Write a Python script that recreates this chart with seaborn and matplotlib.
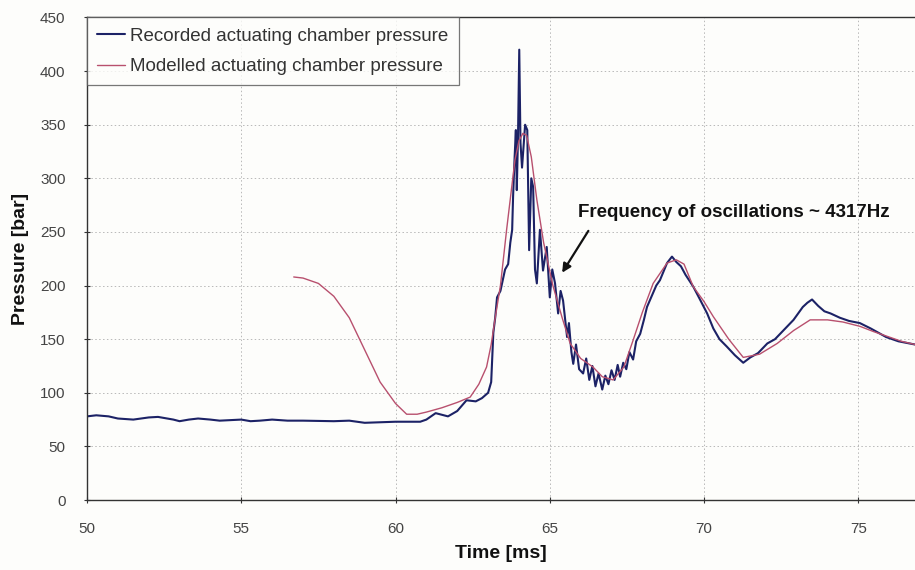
import numpy as np
import pandas as pd
import matplotlib
matplotlib.use("Agg")
import matplotlib.pyplot as plt
import seaborn as sns

# Recorded actuating chamber pressure (time in ms, pressure in bar)
rec_t = [50.0, 50.3, 50.7, 51.0, 51.5, 52.0, 52.3, 52.8, 53.0, 53.3, 53.6, 54.0, 54.3,
         55.0, 55.3, 55.6, 56.0, 56.5, 57.0, 58.0, 58.5, 59.0, 59.5, 60.0, 60.5, 60.8,
         61.0, 61.3, 61.7, 62.0, 62.3, 62.6, 62.8, 63.0, 63.1, 63.17, 63.23, 63.29, 63.4,
         63.55, 63.65, 63.72, 63.78, 63.81, 63.86, 63.9, 63.93, 63.97, 64.01, 64.05,
         64.1, 64.15, 64.2, 64.27, 64.33, 64.4, 64.46, 64.52, 64.58, 64.68, 64.78, 64.9,
         65.0, 65.08, 65.17, 65.27, 65.35, 65.43, 65.56, 65.62, 65.7, 65.76, 65.85, 65.95,
         66.08, 66.18, 66.28, 66.38, 66.48, 66.58, 66.7, 66.8, 66.9, 67.0, 67.1, 67.2,
         67.28, 67.38, 67.48, 67.58, 67.7, 67.8, 67.93, 68.05, 68.15, 68.3, 68.45, 68.57,
         68.7, 68.8, 68.96, 69.1, 69.25, 69.4, 69.65, 69.85, 70.1, 70.3, 70.5, 70.74,
         71.0, 71.27, 71.5, 71.75, 72.05, 72.3, 72.5, 72.7, 72.9, 73.2, 73.35, 73.5,
         73.7, 73.9, 74.1, 74.4, 74.7, 75.05, 75.4, 75.9, 76.3, 76.84]
rec_p = [78, 79, 78, 76, 75, 77, 77.5, 75, 73.5, 75, 76, 75, 74,
         75, 73.5, 74, 75, 74, 74, 73.5, 74, 72, 72.5, 73, 73, 73,
         75, 81, 78, 83, 93, 92, 95, 100, 110, 156, 170, 189, 195,
         215, 220, 240, 252, 283, 320, 345, 289, 340, 420, 333,
         310, 330, 350, 345, 233, 300, 292, 215, 202, 252, 214, 236,
         189, 215, 202, 174, 195, 186, 152, 165, 138, 127, 145, 122,
         118, 132, 112, 125, 106, 118, 103, 116, 108, 121, 112, 126,
         115, 128, 122, 138, 131, 148, 155, 168, 180, 190, 200, 205,
         214, 221, 227, 222, 218, 210, 199, 188, 174, 160, 150, 143,
         135, 128, 133, 137, 146, 150, 156, 162, 168, 180, 184, 187,
         181, 176, 174, 170, 167, 165, 160, 152, 148, 145]

# Modelled actuating chamber pressure
mod_t = [56.7, 57.0, 57.5, 58.0, 58.5, 59.0, 59.5, 60.0, 60.36, 60.7, 61.0, 61.5,
         62.0, 62.42, 62.7, 62.95, 63.1, 63.22, 63.4, 63.6, 63.87, 64.0, 64.13, 64.25,
         64.4, 64.58, 64.8, 65.1, 65.4, 65.66, 66.0, 66.4, 66.7, 67.05, 67.4, 67.7,
         68.0, 68.35, 68.8, 69.1, 69.35, 69.65, 70.0, 70.3, 70.8, 71.27, 71.8, 72.37,
         72.9, 73.44, 74.0, 74.5, 75.05, 75.5, 76.0, 76.4, 76.84]
mod_p = [208, 207, 202, 190, 170, 140, 110, 90, 80, 80, 82, 86,
         91, 96, 108, 124, 145, 168, 200, 252, 317, 335, 342, 340,
         320, 280, 240, 200, 170, 146, 132, 124, 115, 112, 124, 149,
         175, 202, 221, 224, 220, 199, 185, 171, 150, 133, 136, 146,
         158, 168, 168, 166, 162, 157, 152, 148, 145]

rec_label = "Recorded actuating chamber pressure"
mod_label = "Modelled actuating chamber pressure"
note_text = "Frequency of oscillations ~ 4317Hz"

x_ticks = [50, 55, 60, 65, 70, 75]
y_ticks = [0, 50, 100, 150, 200, 250, 300, 350, 400, 450]

sns.set_theme(style="white")
plt.rcParams["font.family"] = ["Liberation Sans", "DejaVu Sans"]

rec_df = pd.DataFrame({"t": rec_t, "p": rec_p})
mod_df = pd.DataFrame({"t": mod_t, "p": mod_p})

fig = plt.figure(figsize=(9.15, 5.70), dpi=100, facecolor="#fdfdfb")
ax = fig.add_axes([0.0951, 0.1228, 0.905, 0.8465])
ax.set_facecolor("#fdfdfb")

sns.lineplot(data=rec_df, x="t", y="p", ax=ax, color="#1c2266", linewidth=1.5,
             label=rec_label, estimator=None, sort=False)
sns.lineplot(data=mod_df, x="t", y="p", ax=ax, color="#b8506e", linewidth=1.0,
             label=mod_label, estimator=None, sort=False)

ax.set_xlim(50, 76.84)
ax.set_ylim(0, 450)
ax.set_xticks(x_ticks)
ax.set_yticks(y_ticks)
ax.grid(True, color="#b8b8b8", linestyle=(0, (1.5, 2.5)), linewidth=0.7)

ax.spines["right"].set_visible(False)
for side in ["left", "bottom", "top"]:
    ax.spines[side].set_color("#333333")
    ax.spines[side].set_linewidth(1.0)

ax.tick_params(axis="both", direction="inout", length=5, width=0.8,
               colors="#333333", labelsize=11, labelcolor="#444444", pad=13)
ax.tick_params(axis="both", left=True, bottom=True)

ax.set_xlabel("Time [ms]", fontsize=14, fontweight="bold", color="#111111", labelpad=7)
ax.set_ylabel("Pressure [bar]", fontsize=14, fontweight="bold", color="#111111", labelpad=8)

leg = ax.legend(loc="upper left", bbox_to_anchor=(0.0, 1.0), borderaxespad=0.0,
                frameon=True, fancybox=False, fontsize=13.5, handlelength=1.5,
                handletextpad=0.25, borderpad=0.55, labelspacing=0.7)
leg.get_frame().set_edgecolor("#555555")
leg.get_frame().set_linewidth(0.9)
leg.get_frame().set_facecolor("#fdfdfb")
for txt in leg.get_texts():
    txt.set_color("#333333")

# Note on the ringing after the pressure spike, with a short pointer arrow
ax.text(65.92, 268, note_text, fontsize=13.5, fontweight="bold", color="#111111",
        va="center", ha="left")
ax.annotate("", xy=(65.4, 212), xytext=(66.25, 251),
            arrowprops=dict(arrowstyle="-|>", color="#111111", lw=1.6,
                            shrinkA=0, shrinkB=0, mutation_scale=13))

fig.savefig("out.png", dpi=100, facecolor=fig.get_facecolor())
